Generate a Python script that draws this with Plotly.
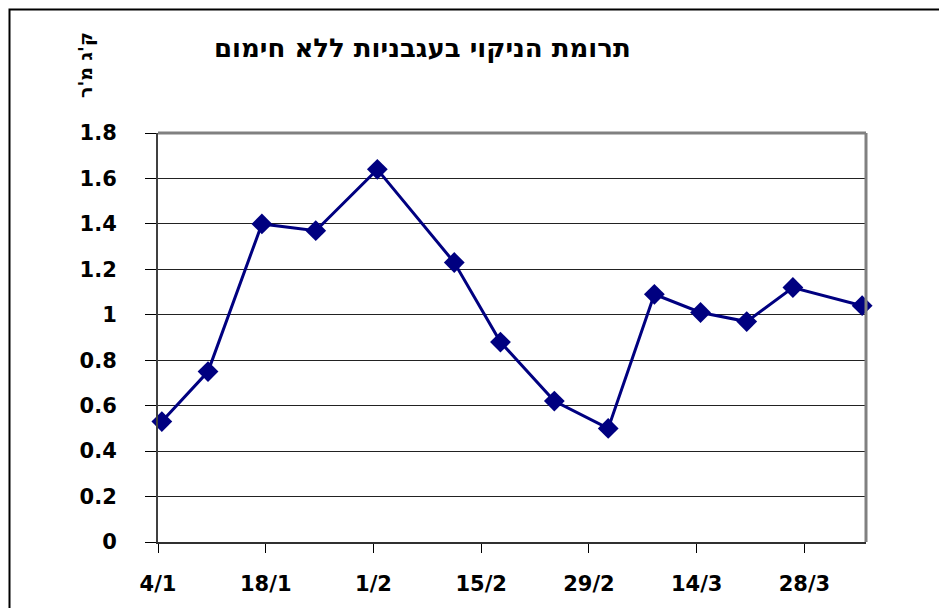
import plotly.graph_objects as go
import pandas as pd

# ---- data ----
dates = ['2008-01-04', '2008-01-10', '2008-01-17', '2008-01-24', '2008-02-01',
         '2008-02-11', '2008-02-17', '2008-02-24', '2008-03-02', '2008-03-08',
         '2008-03-14', '2008-03-20', '2008-03-26', '2008-04-04']
values = [0.53, 0.75, 1.40, 1.37, 1.64, 1.23, 0.88, 0.62, 0.50, 1.09,
          1.01, 0.97, 1.12, 1.04]
tick_dates = ['2008-01-04', '2008-01-18', '2008-02-01', '2008-02-15',
              '2008-02-29', '2008-03-14', '2008-03-28']
tick_labels = ['4/1', '18/1', '1/2', '15/2', '29/2', '14/3', '28/3']
title_text = 'תרומת הניקוי בעגבניות ללא חימום'
y_label = "ק'ג מ'ר"

# points sit in the middle of each day slot (Excel date axis)
x_vals = pd.to_datetime(dates) + pd.Timedelta(hours=12)

FONT = 'DejaVu Sans, Liberation Sans, Arial, sans-serif'
NAVY = '#000080'

# page offset of the figure (body margin) and plot-area geometry in page pixels
OFF = 8
PL, PR, PT, PB = 158, 866, 133, 542
PW, PH = PR - PL, PB - PT


def px(x):
    return (x - PL) / PW


def py(y):
    return (PB - y) / PH


fig = go.Figure()
fig.add_trace(go.Scatter(
    x=x_vals, y=values, mode='lines+markers',
    line=dict(color=NAVY, width=3),
    marker=dict(symbol='diamond', size=16, color=NAVY),
    cliponaxis=False,
    showlegend=False, hoverinfo='x+y'))

fig.update_layout(
    width=947, height=608,
    margin=dict(l=PL - OFF, r=947 + OFF - PR, t=PT - OFF, b=608 + OFF - PB),
    paper_bgcolor='white', plot_bgcolor='white',
    font=dict(family=FONT, color='black'),
    showlegend=False,
    xaxis=dict(
        type='date', range=['2008-01-04', '2008-04-05'],
        tickvals=pd.to_datetime(tick_dates), ticktext=tick_labels,
        ticks='outside', ticklen=9, tickwidth=1, tickcolor='#000',
        showgrid=False, zeroline=False,
        showline=True, linecolor='#303030', linewidth=2,
        tickfont=dict(family=FONT, size=21, color='black', weight='bold'),
        ticklabelstandoff=13,
    ),
    yaxis=dict(
        range=[0, 1.8], dtick=0.2, tick0=0,
        ticks='outside', ticklen=11, tickwidth=1, tickcolor='#000',
        showgrid=True, gridcolor='#222', gridwidth=1,
        zeroline=False,
        showline=True, linecolor='#404040', linewidth=2,
        tickfont=dict(family=FONT, size=21, color='black', weight='bold'),
        ticklabelstandoff=24,
    ),
    annotations=[
        dict(text='<b>' + title_text + '</b>', xref='paper', yref='paper',
             x=px(422), y=py(48), xanchor='center', yanchor='middle',
             showarrow=False, font=dict(family=FONT, size=26, color='black')),
        dict(text='<b>' + y_label + '</b>', xref='paper', yref='paper',
             x=px(86), y=py(65), xanchor='center', yanchor='middle',
             textangle=-90, showarrow=False,
             font=dict(family=FONT, size=19, color='black')),
    ],
    shapes=[
        # plot area border (top and right, grey)
        dict(type='line', xref='paper', yref='paper', x0=0, x1=1, y0=1, y1=1,
             line=dict(color='#808080', width=3)),
        dict(type='line', xref='paper', yref='paper', x0=1, x1=1, y0=0, y1=1,
             line=dict(color='#808080', width=3)),
        # outer chart frame
        dict(type='rect', xref='paper', yref='paper',
             x0=px(9.5), x1=px(990), y0=py(660), y1=py(9.5),
             line=dict(color='black', width=2), layer='below'),
    ],
)

fig.write_html('out.html')
